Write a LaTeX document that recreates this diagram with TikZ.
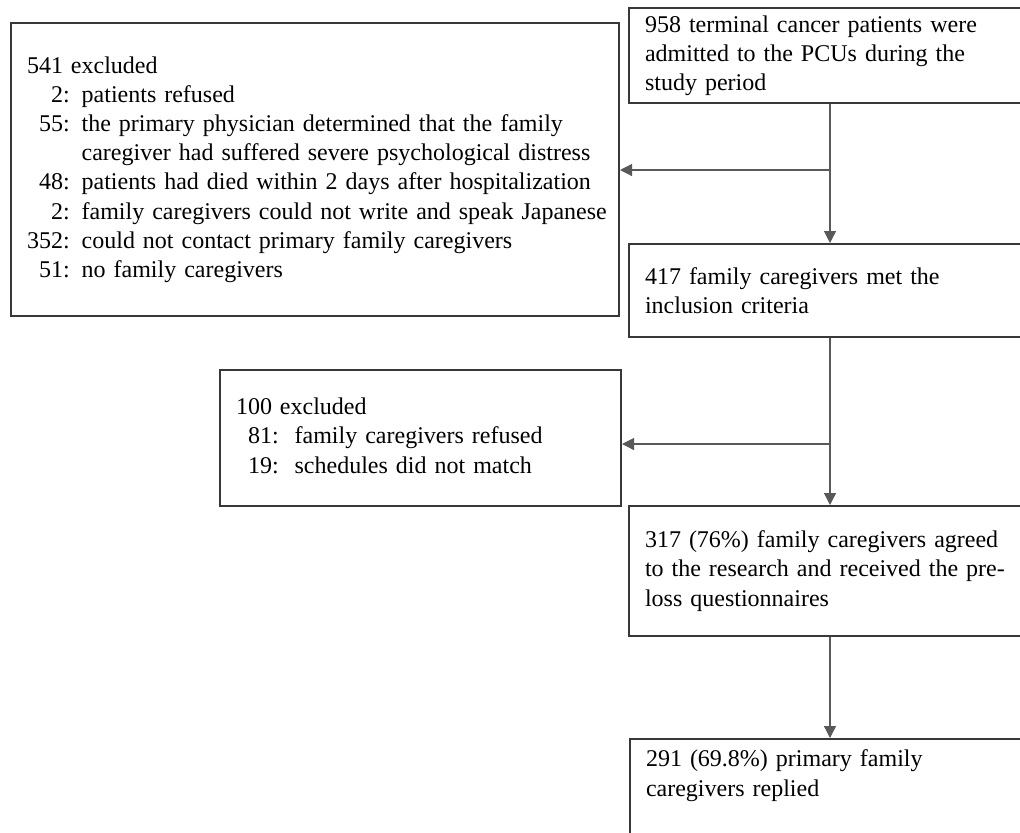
\documentclass[tikz,border=0pt]{standalone}
\usepackage{fontspec}
\setmainfont{Liberation Serif}
\usetikzlibrary{arrows.meta}
\begin{document}
\begin{tikzpicture}[x=0.5pt,y=-0.5pt,
  box/.style={draw=black!78, line width=1pt, anchor=north west, align=left,
    inner xsep=8pt, inner ysep=0pt, font=\fontsize{12}{14.6}\selectfont},
  arr/.style={draw=black!65, line width=0.6pt, -{Triangle[length=6pt,width=6pt]}}]
\useasboundingbox (0,0) rectangle (1020,832);
\clip (0,0) rectangle (1020,832);
\fill[white] (0,0) rectangle (1020,832);
\node[box, text width=182.5pt, minimum height=47.5pt] (A) at (628,7)
  {958 terminal cancer patients were\\admitted to the PCUs during the\\study period};
\node[box, text width=288pt, minimum height=146.5pt] (B) at (10,22)
  {\begin{tabular}{@{}r@{: }l@{}}
  \multicolumn{2}{@{}l@{}}{541 excluded}\\
  2 & patients refused\\
  55 & the primary physician determined that the family\\
   \multicolumn{1}{@{}r@{\hphantom{: }}}{} & caregiver had suffered severe psychological distress\\
  48 & patients had died within 2 days after hospitalization\\
  2 & family caregivers could not write and speak Japanese\\
  352 & could not contact primary family caregivers\\
  51 & no family caregivers
  \end{tabular}};
\node[box, text width=182.5pt, minimum height=46.5pt] (C) at (628,243)
  {417 family caregivers met the\\inclusion criteria};
\node[box, text width=184.5pt, minimum height=68pt] (D) at (219,369)
  {\begin{tabular}{@{}r@{:\ \ }l@{}}
  \multicolumn{2}{@{}l@{}}{100 excluded}\\
  \hphantom{1}81 & family caregivers refused\\
  \hphantom{1}19 & schedules did not match
  \end{tabular}};
\node[box, text width=182.5pt, minimum height=65pt] (E) at (628,505)
  {\makebox[177pt][s]{317 (76\%) family caregivers agreed}\\
   \makebox[177pt][s]{to the research and received the pre-}\\
   loss questionnaires};
\node[box, text width=182.5pt, minimum height=65pt, inner ysep=0pt] (F) at (629,738)
  {\parbox[c][65pt][t]{182.5pt}{\vspace{5.5pt}291 (69.8\%) primary family\\caregivers replied}};
\coordinate (j1) at (830,170);
\coordinate (j2) at (830,444);
\draw[arr] (A.south -| j1) -- (C.north -| j1);
\draw[arr] (j1) -- (j1 -| B.east);
\draw[arr] (C.south -| j2) -- (E.north -| j2);
\draw[arr] (j2) -- (j2 -| D.east);
\draw[arr] (E.south -| j2) -- (F.north -| j2);
\end{tikzpicture}
\end{document}
